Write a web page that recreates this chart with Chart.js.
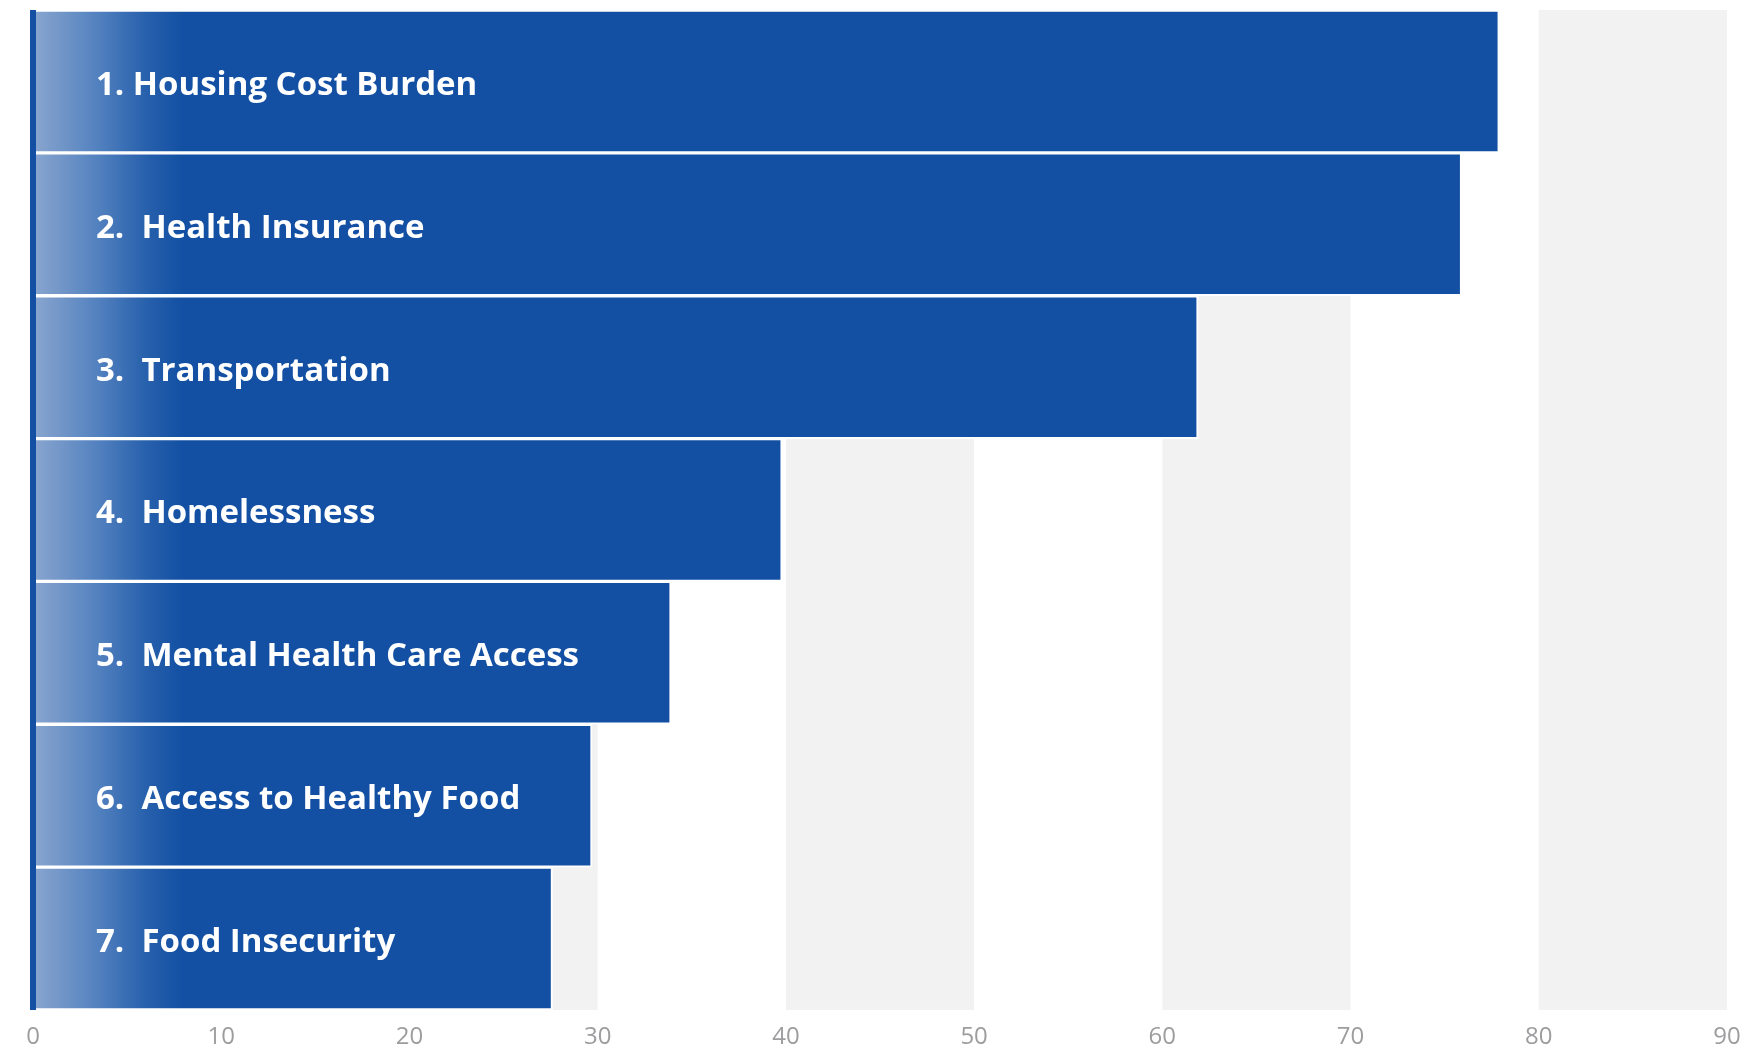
<!DOCTYPE html>
<html>
<head>
<meta charset="utf-8">
<script src="https://cdn.jsdelivr.net/npm/chart.js"></script>
<style>
  body { margin: 0; background: #fff; }
  #wrap { width: 1755px; height: 1053px; position: relative; }
</style>
</head>
<body>
<div id="wrap"><canvas id="chart"></canvas></div>
<script>
// categories, top to bottom
const categories = [
  '1. Housing Cost Burden',
  '2.  Health Insurance',
  '3.  Transportation',
  '4.  Homelessness',
  '5.  Mental Health Care Access',
  '6.  Access to Healthy Food',
  '7.  Food Insecurity'
];
const values = [77.9, 75.9, 61.9, 39.8, 33.9, 29.7, 27.6];
const xTicks = [0, 10, 20, 30, 40, 50, 60, 70, 80, 90];
// shaded columns behind the bars
const bands = [[0, 10], [20, 30], [40, 50], [60, 70], [80, 90]];

const DARK = '#1350a3';

// grey bands behind bars
const bandPlugin = {
  id: 'bands',
  beforeDatasetsDraw(chart) {
    const { ctx, chartArea, scales } = chart;
    ctx.save();
    ctx.fillStyle = '#f2f2f2';
    bands.forEach(([a, b]) => {
      const x1 = scales.x.getPixelForValue(a);
      const x2 = scales.x.getPixelForValue(b);
      ctx.fillRect(x1, chartArea.top, x2 - x1, chartArea.bottom - chartArea.top);
    });
    ctx.restore();
  }
};

// labels inside bars + the axis line on the left
const labelPlugin = {
  id: 'barLabels',
  afterDatasetsDraw(chart) {
    const { ctx, chartArea } = chart;
    const meta = chart.getDatasetMeta(0);
    ctx.save();
    ctx.fillStyle = '#fff';
    ctx.font = 'bold 33px "Open Sans", sans-serif';
    ctx.textBaseline = 'middle';
    ctx.textAlign = 'left';
    meta.data.forEach((bar, i) => {
      ctx.fillText(chart.data.labels[i], chartArea.left + 63, bar.y + 4);
    });
    ctx.fillStyle = DARK;
    ctx.fillRect(chartArea.left - 3, chartArea.top, 6, chartArea.bottom - chartArea.top);
    ctx.restore();
  }
};

function barGradient(context) {
  const area = context.chart.chartArea;
  if (!area) return DARK;
  const g = context.chart.ctx.createLinearGradient(area.left + 3, 0, area.left + 150, 0);
  g.addColorStop(0, '#87a4ce');
  g.addColorStop(0.4, '#5583c0');
  g.addColorStop(0.75, '#2760ac');
  g.addColorStop(1, DARK);
  return g;
}

new Chart(document.getElementById('chart'), {
  type: 'bar',
  data: {
    labels: categories,
    datasets: [{
      data: values,
      backgroundColor: barGradient,
      borderColor: '#fff',
      borderWidth: 2,
      borderSkipped: 'start',
      categoryPercentage: 1,
      barPercentage: 1
    }]
  },
  options: {
    indexAxis: 'y',
    responsive: true,
    maintainAspectRatio: false,
    animation: false,
    layout: { padding: { left: 33, right: 28, top: 10, bottom: 0 } },
    plugins: {
      legend: { display: false },
      tooltip: { enabled: false }
    },
    scales: {
      x: {
        min: 0,
        max: 90,
        afterBuildTicks: axis => { axis.ticks = xTicks.map(v => ({ value: v })); },
        afterFit: axis => { axis.height = 43; },
        grid: { display: false, drawTicks: false },
        border: { display: false },
        ticks: {
          color: '#9d9da0',
          padding: 13,
          font: { family: '"Open Sans", sans-serif', size: 24 }
        }
      },
      y: {
        display: false
      }
    }
  },
  plugins: [bandPlugin, labelPlugin]
});
</script>
</body>
</html>
